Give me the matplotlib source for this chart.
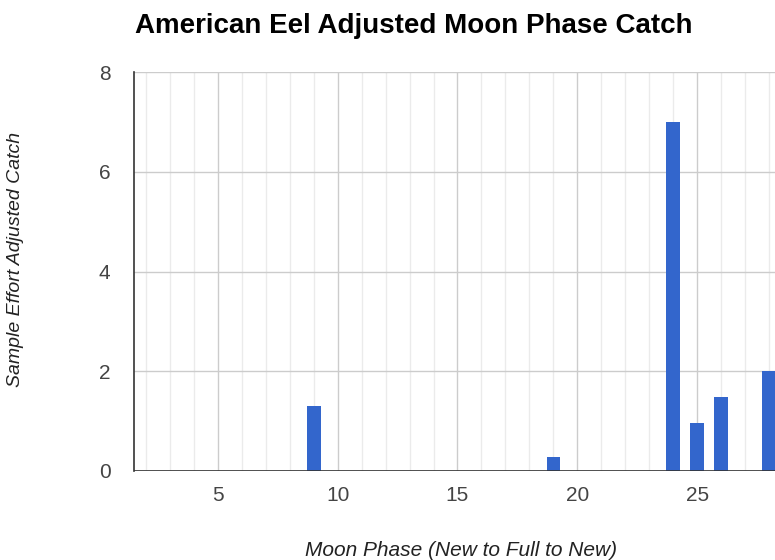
import matplotlib
matplotlib.use("Agg")
import matplotlib.pyplot as plt
from matplotlib.ticker import MultipleLocator

moon_phase = [9, 19, 24, 25, 26, 28]
catch = [1.3, 0.28, 7.0, 0.96, 1.48, 2.0]
x_ticks = [5, 10, 15, 20, 25]
y_ticks = [0, 2, 4, 6, 8]

plt.rcParams['font.family'] = ['Liberation Sans', 'DejaVu Sans']

W, H = 775, 560
fig = plt.figure(figsize=(W/100, H/100), dpi=100)
ax = fig.add_axes([134/W, 89/H, 1 - 134/W, 399/H])

ax.set_xlim(1.5, 28.25)
ax.set_ylim(0, 8)
ax.xaxis.set_minor_locator(MultipleLocator(1))
ax.set_xticks(x_ticks)
ax.set_yticks(y_ticks)
ax.grid(which='minor', axis='x', color='#ebebeb', linewidth=1)
ax.grid(which='major', axis='x', color='#cccccc', linewidth=1)
ax.grid(which='major', axis='y', color='#cccccc', linewidth=1)
ax.set_axisbelow(True)

ax.bar(moon_phase, catch, width=0.57, color='#3366cc', zorder=2)
ax.axhline(0, color='#333333', linewidth=1.2, zorder=3)

for s in ['top', 'right', 'bottom']:
    ax.spines[s].set_visible(False)
ax.spines['left'].set_color('#333333')
ax.spines['left'].set_linewidth(1.2)

ax.tick_params(which='both', length=0)
ax.tick_params(axis='x', labelsize=15, labelcolor='#444444', pad=11)
ax.tick_params(axis='y', labelsize=15, labelcolor='#444444', pad=17)

fig.text(461/W, 1 - 550/H, 'Moon Phase (New to Full to New)', fontsize=15, style='italic',
         color='#222222', ha='center', va='center')
fig.text(16/W, 1 - 259/H, 'Sample Effort Adjusted Catch', fontsize=14, style='italic',
         color='#222222', ha='center', va='center', rotation=90)

fig.text(135/W, 1 - 26/H, 'American Eel Adjusted Moon Phase Catch', fontsize=20, fontweight='bold',
         color='#000000', ha='left', va='center')

fig.savefig('out.png', dpi=100)
